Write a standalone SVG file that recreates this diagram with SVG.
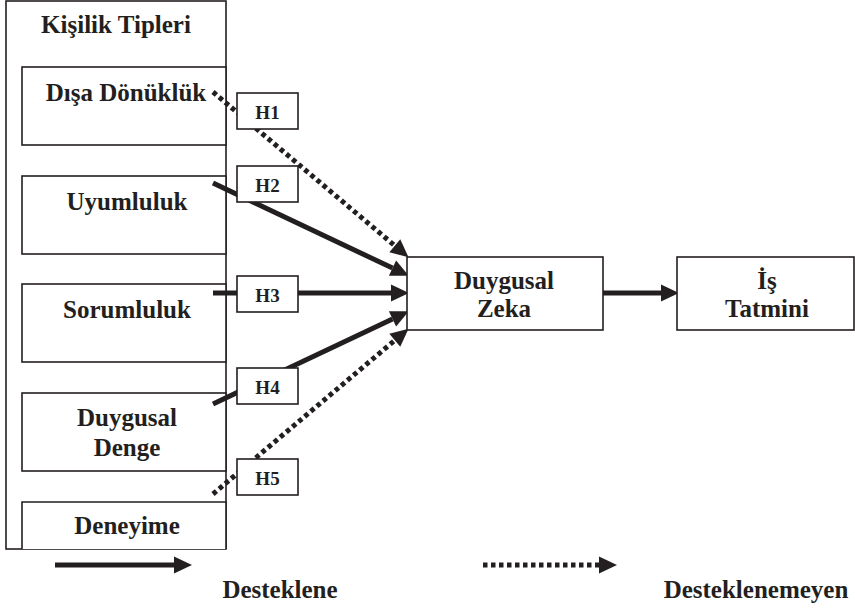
<svg xmlns="http://www.w3.org/2000/svg" width="855" height="609" viewBox="0 0 855 609">
<style>
.box{fill:#fff;stroke:#231f20;stroke-width:1.6}
.t{font-family:"Liberation Serif","Times New Roman",serif;font-weight:bold;font-size:25px;fill:#231f20;text-anchor:middle}
.h{font-family:"Liberation Serif","Times New Roman",serif;font-weight:bold;font-size:19px;fill:#231f20;text-anchor:middle}
.solid{stroke:#231f20;stroke-width:5;fill:none}
.dot{stroke:#231f20;stroke-width:5;fill:none;stroke-dasharray:4.5 3.5}
</style>
<defs>
<marker id="ah" markerUnits="userSpaceOnUse" markerWidth="18" markerHeight="18" refX="0" refY="7.5" orient="auto" viewBox="0 0 16 15" overflow="visible">
<path d="M0,0 L16,7.5 L0,15 z" fill="#231f20"/>
</marker>
</defs>
<g id="kisilik">
<rect class="box" x="6" y="1" width="220" height="548"/>
<text class="t" x="116" y="33">Kişilik Tipleri</text>
</g>
<g id="disa">
<rect class="box" x="22" y="67" width="204" height="78"/>
<text class="t" x="126" y="101">Dışa Dönüklük</text>
</g>
<g id="uyum">
<rect class="box" x="22" y="176" width="204" height="78"/>
<text class="t" x="127" y="210">Uyumluluk</text>
</g>
<g id="sorum">
<rect class="box" x="22" y="284" width="204" height="78"/>
<text class="t" x="127" y="318">Sorumluluk</text>
</g>
<g id="denge">
<rect class="box" x="22" y="393" width="204" height="78"/>
<text class="t" x="127" y="426">Duygusal</text>
<text class="t" x="127" y="456">Denge</text>
</g>
<g id="deneyime">
<path class="box" d="M22,549 V502 H226 V549"/>
<text class="t" x="127" y="534">Deneyime</text>
</g>
<g id="connectors">
<line class="dot" x1="213" y1="92" x2="394.8" y2="245.7" marker-end="url(#ah)"/>
<line class="solid" x1="213" y1="183" x2="392.5" y2="268.1" marker-end="url(#ah)"/>
<line class="solid" x1="213" y1="293" x2="391" y2="293" marker-end="url(#ah)"/>
<line class="solid" x1="213" y1="404" x2="392.5" y2="318.9" marker-end="url(#ah)"/>
<line class="dot" x1="213" y1="494" x2="394.8" y2="340.3" marker-end="url(#ah)"/>
<line class="solid" x1="603" y1="293" x2="661" y2="293" marker-end="url(#ah)"/>
</g>
<g id="h1"><rect class="box" x="237" y="93" width="61" height="36"/><text class="h" x="267.5" y="119">H1</text></g>
<g id="h2"><rect class="box" x="237" y="166" width="61" height="36"/><text class="h" x="267.5" y="192">H2</text></g>
<g id="h3"><rect class="box" x="237" y="276" width="61" height="36"/><text class="h" x="267.5" y="302">H3</text></g>
<g id="h4"><rect class="box" x="237" y="368" width="61" height="36"/><text class="h" x="267.5" y="394">H4</text></g>
<g id="h5"><rect class="box" x="237" y="459" width="61" height="36"/><text class="h" x="267.5" y="485">H5</text></g>
<g id="zeka">
<rect class="box" x="407" y="257" width="196" height="73"/>
<text class="t" x="504" y="289">Duygusal</text>
<text class="t" x="504" y="317">Zeka</text>
</g>
<g id="tatmin">
<rect class="box" x="677" y="257" width="177" height="73"/>
<text class="t" x="767" y="289">İş</text>
<text class="t" x="767" y="317">Tatmini</text>
</g>
<g id="legend">
<line class="solid" x1="55" y1="565" x2="174" y2="565" marker-end="url(#ah)"/>
<text class="t" x="280" y="598">Desteklene</text>
<line class="dot" x1="483" y1="565" x2="599" y2="565" marker-end="url(#ah)"/>
<text class="t" x="756" y="598">Desteklenemeyen</text>
</g>
</svg>
